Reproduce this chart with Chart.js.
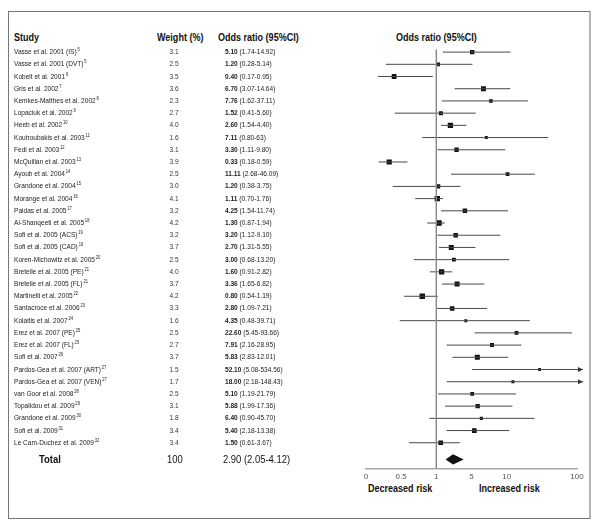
<!DOCTYPE html>
<html lang="en">
<head>
<meta charset="UTF-8" />
<title>Forest plot</title>
<script src="https://cdn.jsdelivr.net/npm/chart.js@4.4.1/dist/chart.umd.min.js"></script>
<style>
  body { margin: 0; background: #fff; font-family: "Liberation Sans Narrow", "Arial Narrow", "Liberation Sans", Arial, sans-serif; color: #222; }
  #page { position: relative; width: 600px; height: 527px; overflow: hidden; }
  .frame { position: absolute; left: 8px; top: 11px; width: 580px; height: 506px; border: 1px solid #777; border-right: 2px solid #b5b5b5; }
  .chart-box { position: absolute; left: 0; top: 0; width: 600px; height: 527px; }
  /* no narrow face installed, so squeeze the regular one */
  .txt { position: absolute; white-space: nowrap; font-size: 8px; line-height: 10px; transform: scaleX(0.82); transform-origin: 0 50%; }
  .head { font-weight: bold; font-size: 11px; line-height: 14px; color: #111; }
  .w { width: 30px; text-align: center; color: #333; transform-origin: 50% 50%; }
  .sup { font-size: 5px; position: relative; top: -3px; margin-left: 1px; }
  .tot { font-size: 11.5px; line-height: 14px; color: #111; }
</style>
</head>
<body>
<div id="page">
  <div class="frame"></div>
  <div class="txt head" style="left:14px;top:30px">Study</div>
  <div class="txt head" style="left:157px;top:30px">Weight (%)</div>
  <div class="txt head" style="left:218px;top:30px">Odds ratio (95%CI)</div>
  <div class="txt head" style="left:396px;top:30px">Odds ratio (95%CI)</div>
  <div class="txt head" style="left:368px;top:481px">Decreased risk</div>
  <div class="txt head" style="left:479px;top:481px">Increased risk</div>
  <div class="chart-box"><canvas id="forest"></canvas></div>
  <div id="rows"></div>
</div>

<script>
  const studies = [
    "Vasse et al. 2001 (IS)", "Vasse et al. 2001 (DVT)", "Kobelt et al. 2001", "Gris et al. 2002",
    "Kemkes-Matthes et al. 2002", "Lopaciuk et al. 2002", "Heeb et al. 2002", "Koutroubakis et al. 2003",
    "Fedi et al. 2003", "McQuillan et al. 2003", "Ayoub et al. 2004", "Grandone et al. 2004",
    "Morange et al. 2004", "Paidas et al. 2005", "Al-Shanqeeti et al. 2005", "Sofi et al. 2005 (ACS)",
    "Sofi et al. 2005 (CAD)", "Koren-Michowitz et al. 2005", "Bretelle et al. 2005 (PE)", "Bretelle et al. 2005 (FL)",
    "Martinelli et al. 2005", "Santacroce et al. 2006", "Kolaitis et al. 2007", "Erez et al. 2007 (PE)",
    "Erez et al. 2007 (FL)", "Sofi et al. 2007", "Pardos-Gea et al. 2007 (ART)", "Pardos-Gea et al. 2007 (VEN)",
    "van Goor et al. 2008", "Topalidou et al. 2009", "Grandone et al. 2009", "Sofi et al. 2009",
    "Le Cam-Duchez et al. 2009"
  ];
  const refs = [5, 5, 6, 7, 8, 9, 10, 11, 12, 13, 14, 15, 16, 17, 18, 19, 19, 20, 21, 21, 22, 23, 24, 25, 25, 26, 27, 27, 28, 29, 30, 31, 32];
  const weights = [3.1, 2.5, 3.5, 3.6, 2.3, 2.7, 4.0, 1.6, 3.1, 3.9, 2.5, 3.0, 4.1, 3.2, 4.2, 3.2, 3.7, 2.5, 4.0, 3.7, 4.2, 3.3, 1.6, 2.5, 2.7, 3.7, 1.5, 1.7, 2.5, 3.1, 1.8, 3.4, 3.4];
  const oddsRatio = [5.10, 1.20, 0.40, 6.70, 7.76, 1.52, 2.60, 7.11, 3.30, 0.33, 11.11, 1.20, 1.11, 4.25, 1.30, 3.20, 2.70, 3.00, 1.60, 3.36, 0.80, 2.80, 4.35, 22.60, 7.91, 5.83, 52.10, 18.00, 5.10, 5.88, 6.40, 5.40, 1.50];
  const ciLow = [1.74, 0.28, 0.17, 3.07, 1.62, 0.41, 1.54, 0.80, 1.11, 0.18, 2.68, 0.38, 0.70, 1.54, 0.87, 1.12, 1.31, 0.68, 0.91, 1.65, 0.54, 1.09, 0.48, 5.45, 2.16, 2.83, 5.08, 2.18, 1.19, 1.99, 0.90, 2.18, 0.61];
  const ciHigh = [14.92, 5.14, 0.95, 14.64, 37.11, 5.60, 4.40, 63, 9.80, 0.59, 46.09, 3.75, 1.76, 11.74, 1.94, 9.10, 5.55, 13.20, 2.82, 6.82, 1.19, 7.21, 39.71, 93.66, 28.95, 12.01, 534.56, 148.43, 21.79, 17.36, 45.70, 13.38, 3.67];
  const totalWeight = 100;
  const totalOR = 2.90;
  const totalLow = 2.05;
  const totalHigh = 4.12;
  const tickValues = [0, 0.5, 1, 5, 10, 100];
  const tickSpans = [1, 1, 1, 1, 2];

  // layout constants (row units on the y axis)
  const totalRow = 33.37;
  const diamondHalf = 0.42;
  const spanSum = tickSpans.reduce((s, v) => s + v, 0);

  // the original axis: equally spaced irregular ticks, linear between them
  class ForestScale extends Chart.Scale {
    determineDataLimits() {
      this.min = tickValues[0];
      this.max = tickValues[tickValues.length - 1];
    }
    buildTicks() {
      return tickValues.map((value) => ({ value }));
    }
    getLabelForValue(value) {
      return String(value);
    }
    toUnits(value) {
      if (value == null || isNaN(value)) return NaN;
      let u = 0;
      for (let i = 0; i < tickSpans.length; i++) {
        const a = tickValues[i], b = tickValues[i + 1];
        if (value <= b || i === tickSpans.length - 1) {
          return u + (Math.max(value, a) - a) / (b - a) * tickSpans[i];
        }
        u += tickSpans[i];
      }
      return NaN;
    }
    getPixelForValue(value) {
      return this.getPixelForDecimal(this.toUnits(value) / spanSum);
    }
    getValueForPixel(pixel) {
      let u = this.getDecimalForPixel(pixel) * spanSum;
      for (let i = 0; i < tickSpans.length; i++) {
        if (u <= tickSpans[i] || i === tickSpans.length - 1) {
          return tickValues[i] + u / tickSpans[i] * (tickValues[i + 1] - tickValues[i]);
        }
        u -= tickSpans[i];
      }
      return NaN;
    }
  }
  ForestScale.id = "forest";
  ForestScale.defaults = {};
  Chart.register(ForestScale);

  const fmt = (v) => (Number.isInteger(v) && v >= 10 ? String(v) : v.toFixed(2));

  // table text
  const rowsEl = document.getElementById("rows");
  const rowEls = studies.map((s, i) => {
    const a = document.createElement("div");
    a.className = "txt";
    a.style.left = "14px";
    a.innerHTML = s + '<span class="sup">' + refs[i] + "</span>";
    const b = document.createElement("div");
    b.className = "txt w";
    b.style.left = "159px";
    b.textContent = weights[i].toFixed(1);
    const c = document.createElement("div");
    c.className = "txt";
    c.style.left = "225px";
    c.innerHTML = "<b>" + oddsRatio[i].toFixed(2) + "</b> (" + fmt(ciLow[i]) + "-" + fmt(ciHigh[i]) + ")";
    [a, b, c].forEach((el) => rowsEl.appendChild(el));
    return [a, b, c];
  });
  const totEls = [
    ["Total", "39px", true],
    [String(totalWeight), "167px", false],
    [totalOR.toFixed(2) + " (" + fmt(totalLow) + "-" + fmt(totalHigh) + ")", "223px", false],
  ].map(([t, left, bold]) => {
    const el = document.createElement("div");
    el.className = "txt tot";
    el.style.left = left;
    if (bold) el.style.fontWeight = "bold";
    el.textContent = t;
    rowsEl.appendChild(el);
    return el;
  });

  const placeRows = {
    id: "placeRows",
    afterLayout(chart) {
      const y = chart.scales.y;
      rowEls.forEach((els, i) => {
        const top = y.getPixelForValue(i) - 5;
        els.forEach((el) => (el.style.top = top + "px"));
      });
      const tt = y.getPixelForValue(totalRow) - 7;
      totEls.forEach((el) => (el.style.top = tt + "px"));
    },
  };

  // arrowheads for intervals running off the right end of the axis
  const arrows = {
    id: "arrows",
    afterDatasetsDraw(chart) {
      const { ctx, chartArea, scales } = chart;
      const xr = chartArea.right + 6;
      ctx.save();
      ctx.fillStyle = "#333";
      ciHigh.forEach((h, i) => {
        if (h <= scales.x.max) return;
        const y = scales.y.getPixelForValue(i);
        ctx.beginPath();
        ctx.moveTo(xr, y);
        ctx.lineTo(xr - 5, y - 2.5);
        ctx.lineTo(xr - 5, y + 2.5);
        ctx.closePath();
        ctx.fill();
      });
      ctx.restore();
    },
  };

  const ciSets = studies.map((s, i) => ({
    data: [{ x: ciLow[i], y: i }, { x: ciHigh[i], y: i }],
    showLine: true,
    borderColor: "#484848",
    borderWidth: 1,
    pointRadius: 0,
    clip: { left: 4, top: 4, right: 6, bottom: 4 },
  }));

  new Chart(document.getElementById("forest"), {
    type: "scatter",
    data: {
      datasets: [
        {
          data: [{ x: 1, y: -0.2 }, { x: 1, y: 34.1 }],
          showLine: true,
          borderColor: "#8a8a8a",
          borderWidth: 1,
          pointRadius: 0,
        },
        ...ciSets,
        {
          data: oddsRatio.map((v, i) => ({ x: v, y: i })),
          pointStyle: "rect",
          pointRadius: (ctx) => (1.3 + weights[ctx.dataIndex]) / Math.SQRT2,
          pointBackgroundColor: "#111",
          pointBorderWidth: 0,
        },
        {
          data: [{ x: totalLow, y: totalRow }, { x: totalOR, y: totalRow - diamondHalf }, { x: totalHigh, y: totalRow }],
          showLine: true,
          borderWidth: 0,
          pointRadius: 0,
          backgroundColor: "#111",
          fill: "+1",
        },
        {
          data: [{ x: totalLow, y: totalRow }, { x: totalOR, y: totalRow + diamondHalf }, { x: totalHigh, y: totalRow }],
          showLine: true,
          borderWidth: 0,
          pointRadius: 0,
          backgroundColor: "#111",
        },
      ],
    },
    options: {
      responsive: true,
      maintainAspectRatio: false,
      animation: false,
      events: [],
      layout: { padding: { left: 366, right: 23, top: 46, bottom: 41 } },
      plugins: { legend: { display: false }, tooltip: { enabled: false } },
      scales: {
        x: {
          type: "forest",
          position: "bottom",
          grid: { display: false, drawTicks: false },
          border: { color: "#a8a8a8", width: 1.5 },
          ticks: {
            autoSkip: false,
            maxRotation: 0,
            padding: 4,
            color: "#555",
            font: { family: "'Liberation Sans Narrow', 'Liberation Sans', sans-serif", size: 8 },
          },
        },
        y: { type: "linear", reverse: true, min: -0.5, max: 34.1, display: false },
      },
    },
    plugins: [placeRows, arrows],
  });
</script>
</body>
</html>
